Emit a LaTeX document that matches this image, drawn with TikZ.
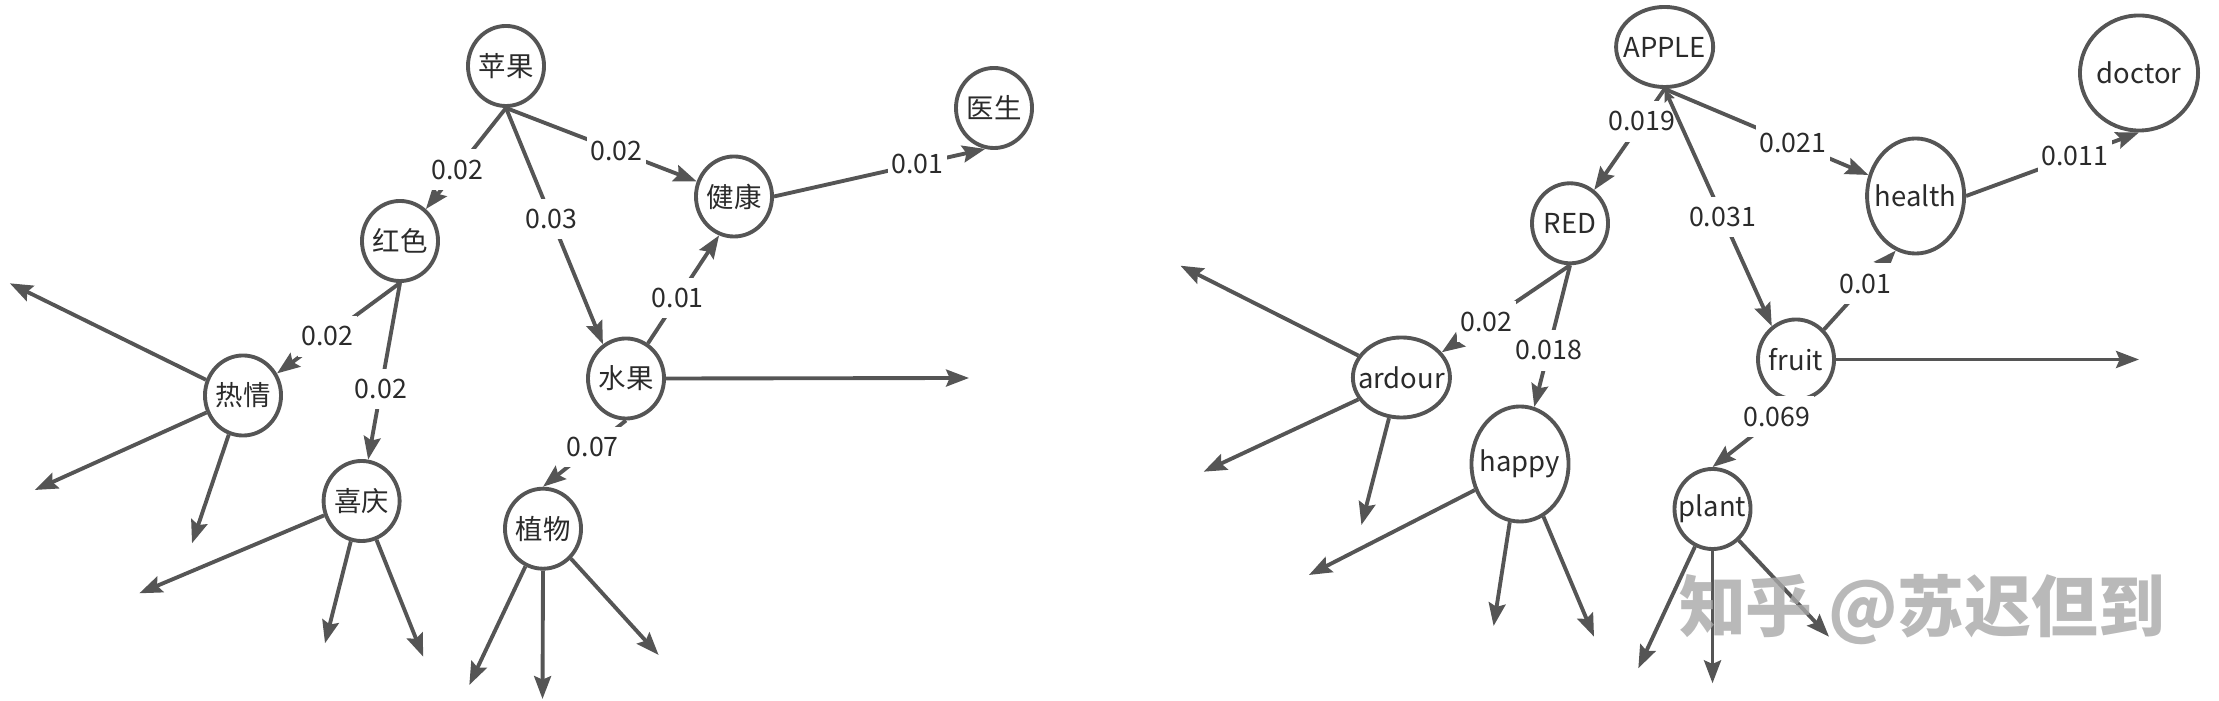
\documentclass[tikz,border=0pt]{standalone}
\usepackage{fontspec}
\setmainfont{Noto Sans CJK SC}
\usetikzlibrary{shapes.geometric,arrows.meta}
\definecolor{lc}{HTML}{555555}
\definecolor{tc}{HTML}{2B2B2B}
\definecolor{wm}{HTML}{A8A8A8}
\newcommand{\ntxt}[1]{\makebox[0pt]{#1}}
\begin{document}
\begin{tikzpicture}[x=0.01cm,y=-0.01cm,
  cn/.style={ellipse, draw=lc, line width=1.1pt, inner sep=0pt, text=tc,
    font=\fontsize{7.8pt}{9pt}\selectfont, minimum width=0.76cm, minimum height=0.80cm},
  wide/.style={minimum width=0.97cm},
  tall/.style={minimum height=1.15cm},
  ed/.style={draw=lc, line width=1.1pt, -{Stealth[length=6.5pt,width=4.8pt,inset=1pt]}},
  edd/.style={draw=lc, line width=1.1pt, {Stealth[length=3.5pt,width=3pt,inset=0.5pt]}-{Stealth[length=6.5pt,width=4.8pt,inset=1pt]}},
  lb/.style={fill=white, text=tc, font=\fontsize{7.6pt}{9pt}\selectfont, inner xsep=1pt, inner ysep=3pt}]
\useasboundingbox (0,0) rectangle (2219,701);

% ---------- left graph ----------
\node[cn] (pg) at (506,66) {\ntxt{苹果}};
\node[cn] (hs) at (400,241) {\ntxt{红色}};
\node[cn] (jk) at (734,196.5) {\ntxt{健康}};
\node[cn] (ys) at (994,108) {\ntxt{医生}};
\node[cn] (sg) at (626,378.5) {\ntxt{水果}};
\node[cn] (rq) at (243,395.5) {\ntxt{热情}};
\node[cn] (xq) at (361.6,501) {\ntxt{喜庆}};
\node[cn] (zw) at (543,528.7) {\ntxt{植物}};

\coordinate (sgr) at (969,378);
\coordinate (rqa) at (9.8,283.3);
\coordinate (rqb) at (34.8,490);
\coordinate (rqc) at (192,543.3);
\coordinate (xqa) at (139.3,593.3);
\coordinate (xqb) at (325,643.3);
\coordinate (xqc) at (423.2,656.7);
\coordinate (zwa) at (469.3,685);
\coordinate (zwb) at (542.5,699);
\coordinate (zwc) at (658.6,655);

\draw[ed] (pg.south) -- node[lb,pos=.61]{0.02} (hs.51);
\draw[ed] (pg.south) -- node[lb,pos=.47]{0.03} (sg.124);
\draw[ed] (pg.south) -- node[lb,pos=.58]{0.02} (jk.158);
\draw[ed] (jk.east) -- node[lb,pos=.68]{0.01} (ys.258);
\draw[ed] (sg.58) -- node[lb,pos=.42]{0.01} (jk.249);
\draw[ed] (sg.east) -- (sgr);
\draw[ed] (sg.south) -- node[lb,pos=.4]{0.07} (zw.north);
\draw[ed] (hs.south) -- node[lb,pos=.59]{0.02} (rq.33);
\draw[ed] (hs.south) -- node[lb,pos=.6]{0.02} (xq.81);
\draw[ed] (rq.157) -- (rqa);
\draw[ed] (rq.205) -- (rqb);
\draw[ed] (rq.250) -- (rqc);
\draw[ed] (xq.201) -- (xqa);
\draw[ed] (xq.255) -- (xqb);
\draw[ed] (xq.291) -- (xqc);
\draw[ed] (zw.245) -- (zwa);
\draw[ed] (zw.south) -- (zwb);
\draw[ed] (zw.313) -- (zwc);

% ---------- right graph ----------
\node[cn, wide] (ap) at (1664.6,47) {\ntxt{APPLE}};
\node[cn] (rd) at (1570,223.3) {\ntxt{RED}};
\node[cn, wide, tall] (ht) at (1915.6,196) {\ntxt{health}};
\node[cn, minimum width=1.18cm, tall] (dc) at (2139,73) {\ntxt{doctor}};
\node[cn] (fr) at (1796,359.5) {\ntxt{fruit}};
\node[cn, wide] (ar) at (1401.4,377.5) {\ntxt{ardour}};
\node[cn, wide, tall] (hp) at (1520,464) {\ntxt{happy}};
\node[cn] (pl) at (1712.5,509) {\ntxt{plant}};

\coordinate (frr) at (2139,359.5);
\coordinate (ara) at (1180.4,265.7);
\coordinate (arb) at (1203.6,471.7);
\coordinate (arc) at (1361.4,525);
\coordinate (hpa) at (1308.9,575);
\coordinate (hpb) at (1493.6,626);
\coordinate (hpc) at (1594,636.7);
\coordinate (pla) at (1638.3,668.3);
\coordinate (plb) at (1712.5,683.3);
\coordinate (plc) at (1829,636.7);

\draw[ed] (ap.south) -- node[lb,pos=.32]{0.019} (rd.54);
\draw[ed] (ap.south) -- node[lb,pos=.63]{0.021} (ht.156);
\draw[edd] (ap.south) -- node[lb,pos=.54]{0.031} (fr.126);
\draw[ed] (ht.east) -- node[lb,pos=.63]{0.011} (dc.south);
\draw[ed] (fr.47) -- node[lb,pos=.58]{0.01} (ht.250);
\draw[ed] (fr.east) -- (frr);
\draw[ed] (fr.south) -- node[lb,pos=.23]{0.069} (pl.north);
\draw[ed] (rd.south) -- node[lb,pos=.65]{0.02} (ar.32);
\draw[ed] (rd.south) -- node[lb,pos=.6]{0.018} (hp.76);
\draw[ed] (ar.153) -- (ara);
\draw[ed] (ar.207) -- (arb);
\draw[ed] (ar.253) -- (arc);
\draw[ed] (hp.210) -- (hpa);
\draw[ed] (hp.260) -- (hpb);
\draw[ed] (hp.294) -- (hpc);
\draw[ed] (pl.245) -- (pla);
\draw[ed] (pl.south) -- (plb);
\draw[ed] (pl.310) -- (plc);

% watermark
\node[text=wm, opacity=0.8, font=\fontsize{19pt}{21pt}\selectfont\bfseries] (wmk) at (1922,610) {知乎 @苏迟但到};
\end{tikzpicture}
\end{document}
